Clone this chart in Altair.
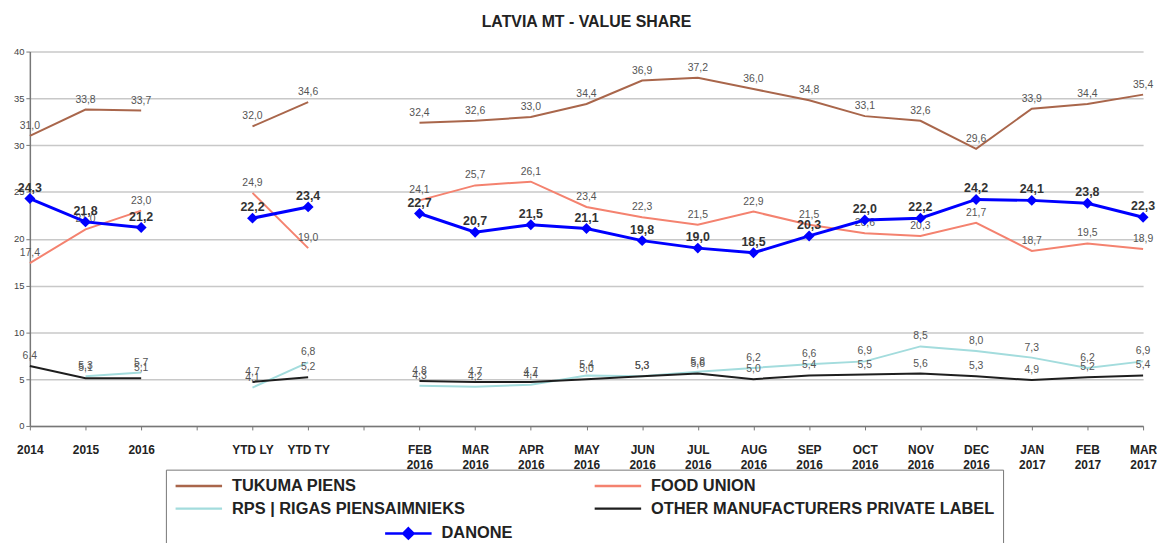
import altair as alt
import pandas as pd

# x-axis slots (blank slots are the gaps between groups)
slots = ["2014", "2015", "2016", " ", "YTD LY", "YTD TY", "  ",
         "FEB 2016", "MAR 2016", "APR 2016", "MAY 2016", "JUN 2016", "JUL 2016",
         "AUG 2016", "SEP 2016", "OCT 2016", "NOV 2016", "DEC 2016",
         "JAN 2017", "FEB 2017", "MAR 2017"]

periods = ["2014", "2015", "2016", "YTD LY", "YTD TY",
           "FEB 2016", "MAR 2016", "APR 2016", "MAY 2016", "JUN 2016", "JUL 2016",
           "AUG 2016", "SEP 2016", "OCT 2016", "NOV 2016", "DEC 2016",
           "JAN 2017", "FEB 2017", "MAR 2017"]
groups = ["year"] * 3 + ["ytd"] * 2 + ["month"] * 14

series_names = ["TUKUMA PIENS", "FOOD UNION", "RPS | RIGAS PIENSAIMNIEKS",
                "OTHER MANUFACTURERS PRIVATE LABEL", "DANONE"]
series_colors = ["#A9664B", "#F4826F", "#A3DCDD", "#1E1E1E", "#0000FF"]
# legend fills column by column: this order gives rows TUKUMA/FOOD, RPS/OTHER, DANONE
legend_order = [0, 2, 4, 1, 3]

tukuma = [31.0, 33.8, 33.7, 32.0, 34.6, 32.4, 32.6, 33.0, 34.4, 36.9, 37.2,
          36.0, 34.8, 33.1, 32.6, 29.6, 33.9, 34.4, 35.4]
food_union = [17.4, 21.0, 23.0, 24.9, 19.0, 24.1, 25.7, 26.1, 23.4, 22.3, 21.5,
              22.9, 21.5, 20.6, 20.3, 21.7, 18.7, 19.5, 18.9]
rps = [None, 5.3, 5.7, 4.1, 6.8, 4.3, 4.2, 4.4, 5.4, 5.3, 5.8,
       6.2, 6.6, 6.9, 8.5, 8.0, 7.3, 6.2, 6.9]
other_pl = [6.4, 5.1, 5.1, 4.7, 5.2, 4.8, 4.7, 4.7, 5.0, 5.3, 5.6,
            5.0, 5.4, 5.5, 5.6, 5.3, 4.9, 5.2, 5.4]
danone = [24.3, 21.8, 21.2, 22.2, 23.4, 22.7, 20.7, 21.5, 21.1, 19.8, 19.0,
          18.5, 20.3, 22.0, 22.2, 24.2, 24.1, 23.8, 22.3]

values_by_series = [tukuma, food_union, rps, other_pl, danone]

rows = []
for name, vals in zip(series_names, values_by_series):
    for i, (p, g, v) in enumerate(zip(periods, groups, vals)):
        if v is not None:
            rows.append({"series": name, "period": p, "grp": g, "idx": i, "value": v})
df = pd.DataFrame(rows)

dom = [series_names[i] for i in legend_order]
rng = [series_colors[i] for i in legend_order]

line_sym = "M-1,0H6.2"
dia_sym = "M-1,0H6.2M2.6,-0.8L3.4,0L2.6,0.8L1.8,0Z"
is_dan = "datum.value == 'DANONE'"

color = alt.Color(
    "series:N",
    scale=alt.Scale(domain=dom, range=rng),
    sort=dom,
    legend=alt.Legend(
        title=None, orient="none", legendX=137, legendY=421, columns=2,
        symbolType=alt.ExprRef(expr="%s ? '%s' : '%s'" % (is_dan, dia_sym, line_sym)),
        symbolFillColor=alt.ExprRef(expr="%s ? '#0000FF' : 'transparent'" % is_dan),
        symbolOffset=alt.ExprRef(expr="%s ? 211 : 0" % is_dan),
        labelOffset=42,
        symbolSize=169, symbolStrokeWidth=2.5,
        labelFont="Liberation Sans", labelFontWeight="bold", labelFontSize=16.5,
        labelColor="#222", labelLimit=500, columnPadding=76, rowPadding=6,
        strokeColor="#777", padding=8,
    ),
)

x = alt.X(
    "period:N",
    sort=slots,
    scale=alt.Scale(domain=slots, type="point", padding=0),
    axis=alt.Axis(
        title=None, labelAngle=0, grid=False,
        labelExpr="length(datum.value) == 8 ? split(datum.value, ' ') : datum.value",
        labelFont="Liberation Sans", labelFontWeight="bold", labelFontSize=12,
        labelColor="#222", labelLineHeight=15, labelPadding=20,
        labelBaseline="middle",
        tickSize=4, tickColor="#777", domainColor="#777", domainWidth=1.5,
    ),
)
y = alt.Y(
    "value:Q",
    scale=alt.Scale(domain=[0, 40], nice=False),
    axis=alt.Axis(
        title=None, values=list(range(0, 41, 5)), grid=True,
        gridColor="#C8C8C8", gridWidth=1.5, domainColor="#777", domainWidth=1.5,
        tickColor="#777", tickSize=4, labelFont="Liberation Sans",
        labelFontSize=9.5, labelColor="#444", labelPadding=2,
    ),
)

base = alt.Chart(df).encode(x=x, y=y, detail="grp:N")
base = base.transform_calculate(
    lab="replace(format(datum.value, '.1f'), '.', ',')"
)

others = base.transform_filter(alt.datum.series != "DANONE")
dan = base.transform_filter(alt.datum.series == "DANONE")

lines = others.mark_line(strokeWidth=2).encode(color=color, order="idx:Q")
dan_line = dan.mark_line(strokeWidth=3).encode(color=color, order="idx:Q")
dan_pts = dan.mark_point(shape="diamond", filled=True, size=120, opacity=1, color="#0000FF")

txt = others.mark_text(dy=-10, fontSize=10.5, font="Liberation Sans", color="#555").encode(
    text="lab:N"
)
dan_txt = dan.mark_text(dy=-11, fontSize=12.5, font="Liberation Sans",
                        fontWeight="bold", color="#333").encode(text="lab:N")

chart = alt.layer(lines, txt, dan_line, dan_pts, dan_txt).properties(
    width=1121, height=377,
    autosize=alt.AutoSizeParams(type="none"),
    padding={"left": 22, "top": 42, "right": 14, "bottom": 116},
    title=alt.TitleParams(
        "LATVIA MT - VALUE SHARE", font="Liberation Sans", fontSize=16,
        fontWeight="bold", color="#222", anchor="middle", offset=17,
    ),
).configure_view(stroke=None)

chart.save("out.html", embed_options={"renderer": "svg", "actions": False})
